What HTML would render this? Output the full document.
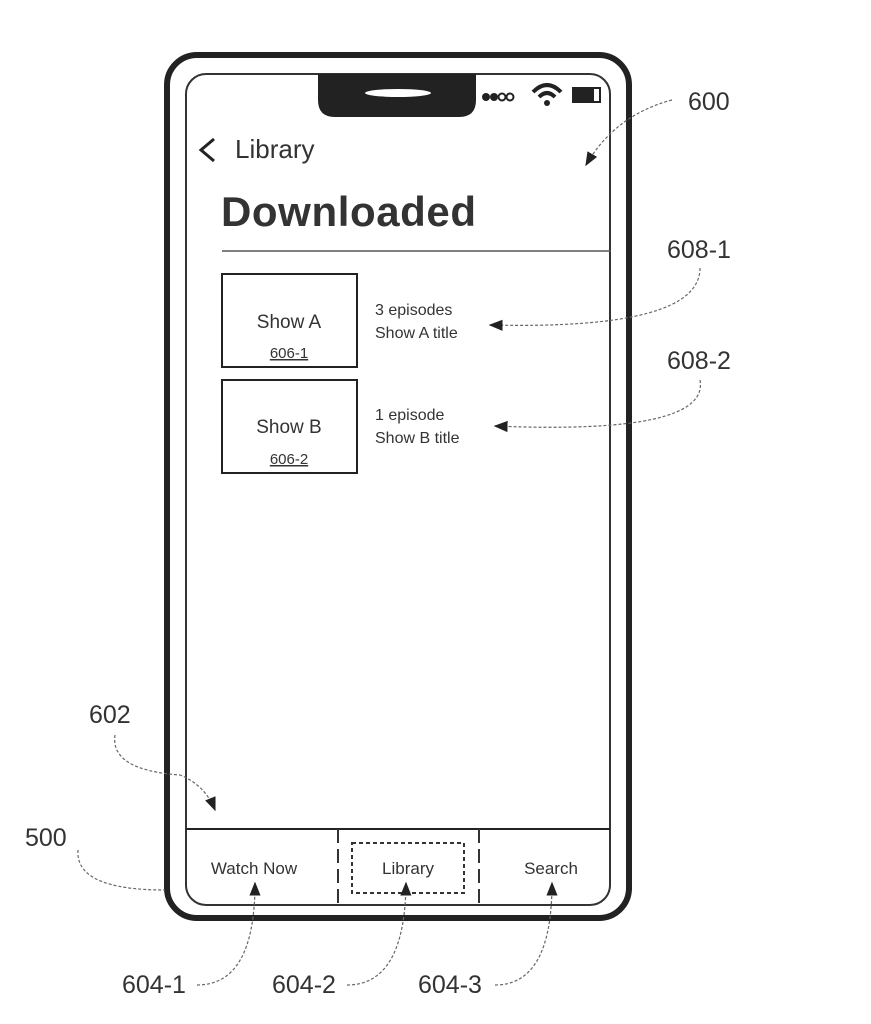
<!DOCTYPE html>
<html><head><meta charset="utf-8"><style>
body{margin:0;background:#fff}
svg{display:block}
text{font-family:"Liberation Sans",Arial,sans-serif;fill:#333}
</style></head><body>
<svg width="871" height="1024" viewBox="0 0 871 1024" xmlns="http://www.w3.org/2000/svg">
<defs>
<marker id="a" viewBox="0 0 10 10" refX="9" refY="5" markerWidth="14" markerHeight="14" markerUnits="userSpaceOnUse" orient="auto"><path d="M0,1 L10,5 L0,9 z" fill="#222"/></marker>
</defs>
<rect x="167" y="55" width="462" height="863" rx="30" fill="none" stroke="#222" stroke-width="6"/>
<rect x="186" y="74" width="424" height="831" rx="20" fill="none" stroke="#333" stroke-width="2"/>
<path d="M318,74 L476,74 L476,100 Q476,117 459,117 L335,117 Q318,117 318,100 Z" fill="#222"/>
<ellipse cx="398" cy="93" rx="33" ry="4" fill="#fff"/>
<circle cx="486" cy="97" r="4" fill="#222"/><circle cx="494" cy="97" r="4" fill="#222"/>
<circle cx="502" cy="97" r="3.5" fill="none" stroke="#222" stroke-width="2"/><circle cx="510" cy="97" r="3.5" fill="none" stroke="#222" stroke-width="2"/>
<path d="M533,92 Q547,78 561,92" fill="none" stroke="#222" stroke-width="4"/>
<path d="M539,97 Q547,89 555,97" fill="none" stroke="#222" stroke-width="4"/>
<circle cx="547" cy="103" r="3" fill="#222"/>
<rect x="572" y="87" width="21" height="16" fill="#222"/>
<rect x="593" y="88" width="7" height="14" fill="none" stroke="#222" stroke-width="2"/>
<path d="M214,139 L201,150 L214,161" fill="none" stroke="#222" stroke-width="3"/>
<text x="235" y="158" font-size="26" fill="#333">Library</text>
<text x="221" y="226" font-size="42" font-weight="bold" fill="#222" textLength="255">Downloaded</text>
<line x1="222" y1="251" x2="611" y2="251" stroke="#555" stroke-width="1.5"/>
<rect x="222" y="274" width="135" height="93" fill="none" stroke="#222" stroke-width="2"/>
<text x="289" y="328" font-size="19" text-anchor="middle">Show A</text>
<text x="289" y="358" font-size="15" text-anchor="middle" text-decoration="underline">606-1</text>
<rect x="222" y="380" width="135" height="93" fill="none" stroke="#222" stroke-width="2"/>
<text x="289" y="433" font-size="19" text-anchor="middle">Show B</text>
<text x="289" y="464" font-size="15" text-anchor="middle" text-decoration="underline">606-2</text>
<text x="375" y="315" font-size="16">3 episodes</text>
<text x="375" y="338" font-size="16">Show A title</text>
<text x="375" y="420" font-size="16">1 episode</text>
<text x="375" y="443" font-size="16">Show B title</text>
<line x1="186" y1="829" x2="610" y2="829" stroke="#222" stroke-width="2"/>
<line x1="338" y1="829" x2="338" y2="905" stroke="#333" stroke-width="2" stroke-dasharray="14,6"/>
<line x1="479" y1="829" x2="479" y2="905" stroke="#333" stroke-width="2" stroke-dasharray="14,6"/>
<rect x="352" y="843" width="112" height="50" fill="none" stroke="#333" stroke-width="2" stroke-dasharray="4,3"/>
<text x="254" y="874" font-size="17" text-anchor="middle">Watch Now</text>
<text x="408" y="874" font-size="17" text-anchor="middle">Library</text>
<text x="551" y="874" font-size="17" text-anchor="middle">Search</text>
<g font-size="25" fill="#333">
<text x="688" y="110">600</text>
<text x="667" y="258">608-1</text>
<text x="667" y="369">608-2</text>
<text x="89" y="723">602</text>
<text x="25" y="846">500</text>
<text x="122" y="993">604-1</text>
<text x="272" y="993">604-2</text>
<text x="418" y="993">604-3</text>
</g>
<g fill="none" stroke="#666" stroke-width="1.2" stroke-dasharray="3,2">
<path d="M672,100 Q615,115 586,165" marker-end="url(#a)"/>
<path d="M700,268 Q700,330 490,325" marker-end="url(#a)"/>
<path d="M700,380 Q710,435 495,426" marker-end="url(#a)"/>
<path d="M115,735 Q110,770 180,775 Q205,785 215,810" marker-end="url(#a)"/>
<path d="M78,850 Q75,890 165,890"/>
<path d="M197,985 Q255,985 255,883" marker-end="url(#a)"/>
<path d="M347,985 Q405,985 406,883" marker-end="url(#a)"/>
<path d="M495,985 Q552,985 552,883" marker-end="url(#a)"/>
</g>
</svg>
</body></html>
